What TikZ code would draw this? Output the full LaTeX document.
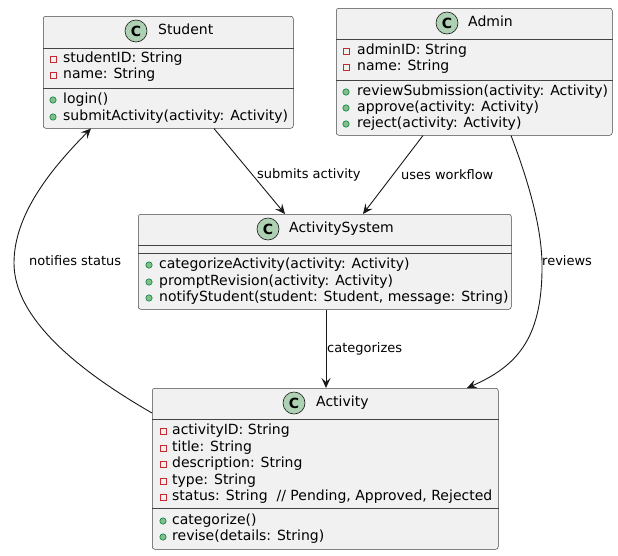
\documentclass[tikz,border=0pt]{standalone}
\usepackage{fontspec}
\setmainfont{DejaVu Sans}
\usetikzlibrary{arrows.meta}

\definecolor{boxfill}{HTML}{F1F1F1}
\definecolor{linec}{HTML}{181818}
\definecolor{sepc}{HTML}{444444}
\definecolor{circfill}{HTML}{ADD1B2}
\definecolor{privc}{HTML}{C82930}
\definecolor{pubfill}{HTML}{84BE84}
\definecolor{pubdraw}{HTML}{038048}

\tikzset{
  box/.style={draw=sepc, fill=boxfill, line width=0.5pt, rounded corners=2.5pt,
              inner sep=0pt, anchor=north west},
  sep/.style={draw=sepc, line width=0.5pt},
  cls/.style={circle, draw=linec, fill=circfill, line width=0.6pt, minimum size=22pt,
              inner sep=0pt, font=\fontsize{14}{14}\selectfont\bfseries},
  txt/.style={anchor=west, inner sep=0pt, font=\fontsize{14}{16}\selectfont,
              text height=10.2pt, text depth=3pt},
  lbl/.style={anchor=west, inner sep=0pt, font=\fontsize{13}{15}\selectfont,
              text height=9.5pt, text depth=2.8pt},
  priv/.style={draw=privc, line width=0.8pt},
  pubdot/.style={fill=pubfill, draw=pubdraw, line width=0.6pt},
  arr/.style={draw=linec, line width=0.9pt,
              -{Stealth[length=10pt,width=9pt,inset=4pt]}},
}

% member visibility markers
\newcommand\privmark[2]{\draw[priv] (#1-3,#2-3) rectangle (#1+3,#2+3);}
\newcommand\pubmark[2]{\filldraw[pubdot] (#1,#2) circle (3.2pt);}

\begin{document}
\begin{tikzpicture}[x=1pt,y=-1pt]
\useasboundingbox (0,0) rectangle (618,555);

% ---------- Student ----------
\node[box, minimum width=250pt, minimum height=112pt] (student) at (43,16) {};
\draw[sep] (student.west |- 0,48) -- (student.east |- 0,48);
\draw[sep] (student.west |- 0,88) -- (student.east |- 0,88);
\node[cls] (studentC) at (136,31) {C};
\node[txt] (studentT) at (158,31) {Student};
\privmark{53}{59} \node[txt] (studentA1) at (63,59) {studentID: String};
\privmark{53}{75} \node[txt] (studentA2) at (63,75) {name: String};
\pubmark{53}{100} \node[txt] (studentM1) at (63,100) {login()};
\pubmark{53}{117} \node[txt] (studentM2) at (63,117) {submitActivity(activity: Activity)};

% ---------- Admin ----------
\node[box, minimum width=276pt, minimum height=127pt] (admin) at (336,8) {};
\draw[sep] (admin.west |- 0,39) -- (admin.east |- 0,39);
\draw[sep] (admin.west |- 0,80) -- (admin.east |- 0,80);
\node[cls] (adminC) at (447,23) {C};
\node[txt] (adminT) at (468,23) {Admin};
\privmark{346}{51} \node[txt] (adminA1) at (357,51) {adminID: String};
\privmark{346}{67} \node[txt] (adminA2) at (357,67) {name: String};
\pubmark{346}{92} \node[txt] (adminM1) at (357,92) {reviewSubmission(activity: Activity)};
\pubmark{346}{108} \node[txt] (adminM2) at (357,108) {approve(activity: Activity)};
\pubmark{346}{124} \node[txt] (adminM3) at (357,124) {reject(activity: Activity)};

% ---------- ActivitySystem ----------
\node[box, minimum width=373pt, minimum height=95pt] (system) at (138,214) {};
\draw[sep] (system.west |- 0,245) -- (system.east |- 0,245);
\draw[sep] (system.west |- 0,253) -- (system.east |- 0,253);
\node[cls] (systemC) at (268,229) {C};
\node[txt] (systemT) at (289,229) {ActivitySystem};
\pubmark{149}{265} \node[txt] (systemM1) at (159,265) {categorizeActivity(activity: Activity)};
\pubmark{149}{282} \node[txt] (systemM2) at (159,282) {promptRevision(activity: Activity)};
\pubmark{149}{298} \node[txt] (systemM3) at (159,298) {notifyStudent(student: Student, message: String)};

% ---------- Activity ----------
\node[box, minimum width=346pt, minimum height=161pt] (activity) at (152,388) {};
\draw[sep] (activity.west |- 0,419) -- (activity.east |- 0,419);
\draw[sep] (activity.west |- 0,508) -- (activity.east |- 0,508);
\node[cls] (activityC) at (294,403) {C};
\node[txt] (activityT) at (316,403) {Activity};
\privmark{163}{431} \node[txt] (activityA1) at (172,431) {activityID: String};
\privmark{163}{448} \node[txt] (activityA2) at (172,448) {title: String};
\privmark{163}{464} \node[txt] (activityA3) at (172,464) {description: String};
\privmark{163}{481} \node[txt] (activityA4) at (172,481) {type: String};
\privmark{163}{497} \node[txt] (activityA5) at (172,497) {status: String\ \ // Pending, Approved, Rejected};
\pubmark{163}{521} \node[txt] (activityM1) at (172,521) {categorize()};
\pubmark{163}{537} \node[txt] (activityM2) at (172,537) {revise(details: String)};

% ---------- relations ----------
\draw[arr] ([xshift=171pt]student.south west) -- ([xshift=147pt]system.north west);
\node[lbl] (lblSubmits) at (257,175) {submits activity};

\draw[arr] ([xshift=87pt]admin.south west) -- ([xshift=225pt]system.north west);
\node[lbl] (lblUses) at (401,176) {uses workflow};

\draw[arr] ([xshift=175pt]admin.south west)
  .. controls (528,180) and (541,225) .. (542,262)
  .. controls (543,335) and (520,365) .. ([xshift=315pt]activity.north west);
\node[lbl] (lblReviews) at (542,262) {reviews};

\draw[arr] ([xshift=188pt]system.south west) -- ([xshift=174pt]activity.north west);
\node[lbl] (lblCat) at (327,349) {categorizes};

\draw[arr] ([yshift=-25pt]activity.north west)
  .. controls (60,360) and (14,310) .. (14,263)
  .. controls (14,215) and (50,170) .. ([xshift=48pt]student.south west);
\node[lbl] (lblNotify) at (29,262) {notifies status};

\end{tikzpicture}
\end{document}
